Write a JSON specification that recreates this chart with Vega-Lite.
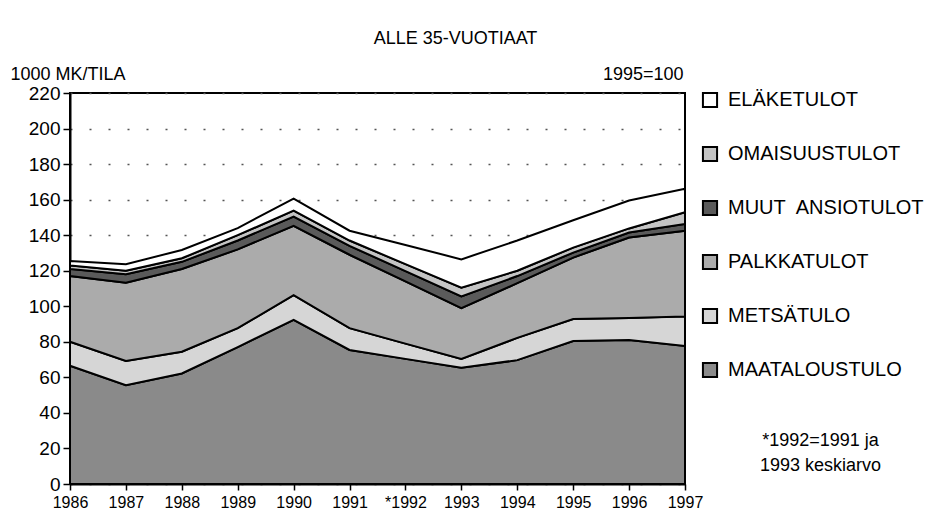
{
  "$schema": "https://vega.github.io/schema/vega-lite/v6.json",
  "width": 615,
  "height": 391,
  "autosize": {"type": "none"},
  "padding": {"left": 70, "top": 93, "right": 252, "bottom": 45},
  "background": "white",
  "config": {
    "font": "Liberation Sans",
    "view": {"stroke": "black", "strokeWidth": 2}
  },
  "title": {
    "text": "ALLE 35-VUOTIAAT",
    "fontSize": 18,
    "fontWeight": "normal",
    "color": "black",
    "anchor": "middle",
    "dx": 78,
    "offset": 17
  },
  "data": {
    "values": [
      {"vuosi": "1986", "tulo": "MAATALOUSTULO", "j": 1, "arvo": 66.5},
      {"vuosi": "1986", "tulo": "METSÄTULO", "j": 2, "arvo": 13.5},
      {"vuosi": "1986", "tulo": "PALKKATULOT", "j": 3, "arvo": 37},
      {"vuosi": "1986", "tulo": "MUUT\u00a0 ANSIOTULOT", "j": 4, "arvo": 4},
      {"vuosi": "1986", "tulo": "OMAISUUSTULOT", "j": 5, "arvo": 2},
      {"vuosi": "1986", "tulo": "ELÄKETULOT", "j": 6, "arvo": 2.5},
      {"vuosi": "1987", "tulo": "MAATALOUSTULO", "j": 1, "arvo": 55.6},
      {"vuosi": "1987", "tulo": "METSÄTULO", "j": 2, "arvo": 13.6},
      {"vuosi": "1987", "tulo": "PALKKATULOT", "j": 3, "arvo": 44},
      {"vuosi": "1987", "tulo": "MUUT\u00a0 ANSIOTULOT", "j": 4, "arvo": 4.8},
      {"vuosi": "1987", "tulo": "OMAISUUSTULOT", "j": 5, "arvo": 2},
      {"vuosi": "1987", "tulo": "ELÄKETULOT", "j": 6, "arvo": 3.6},
      {"vuosi": "1988", "tulo": "MAATALOUSTULO", "j": 1, "arvo": 62.2},
      {"vuosi": "1988", "tulo": "METSÄTULO", "j": 2, "arvo": 12.2},
      {"vuosi": "1988", "tulo": "PALKKATULOT", "j": 3, "arvo": 46.6},
      {"vuosi": "1988", "tulo": "MUUT\u00a0 ANSIOTULOT", "j": 4, "arvo": 4},
      {"vuosi": "1988", "tulo": "OMAISUUSTULOT", "j": 5, "arvo": 2},
      {"vuosi": "1988", "tulo": "ELÄKETULOT", "j": 6, "arvo": 4.7},
      {"vuosi": "1989", "tulo": "MAATALOUSTULO", "j": 1, "arvo": 77},
      {"vuosi": "1989", "tulo": "METSÄTULO", "j": 2, "arvo": 10.7},
      {"vuosi": "1989", "tulo": "PALKKATULOT", "j": 3, "arvo": 44.3},
      {"vuosi": "1989", "tulo": "MUUT\u00a0 ANSIOTULOT", "j": 4, "arvo": 5},
      {"vuosi": "1989", "tulo": "OMAISUUSTULOT", "j": 5, "arvo": 3},
      {"vuosi": "1989", "tulo": "ELÄKETULOT", "j": 6, "arvo": 4},
      {"vuosi": "1990", "tulo": "MAATALOUSTULO", "j": 1, "arvo": 92.4},
      {"vuosi": "1990", "tulo": "METSÄTULO", "j": 2, "arvo": 13.8},
      {"vuosi": "1990", "tulo": "PALKKATULOT", "j": 3, "arvo": 39.1},
      {"vuosi": "1990", "tulo": "MUUT\u00a0 ANSIOTULOT", "j": 4, "arvo": 5.2},
      {"vuosi": "1990", "tulo": "OMAISUUSTULOT", "j": 5, "arvo": 3.3},
      {"vuosi": "1990", "tulo": "ELÄKETULOT", "j": 6, "arvo": 6.8},
      {"vuosi": "1991", "tulo": "MAATALOUSTULO", "j": 1, "arvo": 75.4},
      {"vuosi": "1991", "tulo": "METSÄTULO", "j": 2, "arvo": 12.3},
      {"vuosi": "1991", "tulo": "PALKKATULOT", "j": 3, "arvo": 41.3},
      {"vuosi": "1991", "tulo": "MUUT\u00a0 ANSIOTULOT", "j": 4, "arvo": 5},
      {"vuosi": "1991", "tulo": "OMAISUUSTULOT", "j": 5, "arvo": 3},
      {"vuosi": "1991", "tulo": "ELÄKETULOT", "j": 6, "arvo": 5.5},
      {"vuosi": "*1992", "tulo": "MAATALOUSTULO", "j": 1, "arvo": 70.4},
      {"vuosi": "*1992", "tulo": "METSÄTULO", "j": 2, "arvo": 8.6},
      {"vuosi": "*1992", "tulo": "PALKKATULOT", "j": 3, "arvo": 35},
      {"vuosi": "*1992", "tulo": "MUUT\u00a0 ANSIOTULOT", "j": 4, "arvo": 5.8},
      {"vuosi": "*1992", "tulo": "OMAISUUSTULOT", "j": 5, "arvo": 3.9},
      {"vuosi": "*1992", "tulo": "ELÄKETULOT", "j": 6, "arvo": 10.8},
      {"vuosi": "1993", "tulo": "MAATALOUSTULO", "j": 1, "arvo": 65.4},
      {"vuosi": "1993", "tulo": "METSÄTULO", "j": 2, "arvo": 4.9},
      {"vuosi": "1993", "tulo": "PALKKATULOT", "j": 3, "arvo": 28.7},
      {"vuosi": "1993", "tulo": "MUUT\u00a0 ANSIOTULOT", "j": 4, "arvo": 6.6},
      {"vuosi": "1993", "tulo": "OMAISUUSTULOT", "j": 5, "arvo": 4.8},
      {"vuosi": "1993", "tulo": "ELÄKETULOT", "j": 6, "arvo": 16},
      {"vuosi": "1994", "tulo": "MAATALOUSTULO", "j": 1, "arvo": 69.7},
      {"vuosi": "1994", "tulo": "METSÄTULO", "j": 2, "arvo": 12.5},
      {"vuosi": "1994", "tulo": "PALKKATULOT", "j": 3, "arvo": 30.8},
      {"vuosi": "1994", "tulo": "MUUT\u00a0 ANSIOTULOT", "j": 4, "arvo": 4},
      {"vuosi": "1994", "tulo": "OMAISUUSTULOT", "j": 5, "arvo": 3},
      {"vuosi": "1994", "tulo": "ELÄKETULOT", "j": 6, "arvo": 17},
      {"vuosi": "1995", "tulo": "MAATALOUSTULO", "j": 1, "arvo": 80.5},
      {"vuosi": "1995", "tulo": "METSÄTULO", "j": 2, "arvo": 12.3},
      {"vuosi": "1995", "tulo": "PALKKATULOT", "j": 3, "arvo": 34.6},
      {"vuosi": "1995", "tulo": "MUUT\u00a0 ANSIOTULOT", "j": 4, "arvo": 2.8},
      {"vuosi": "1995", "tulo": "OMAISUUSTULOT", "j": 5, "arvo": 2.8},
      {"vuosi": "1995", "tulo": "ELÄKETULOT", "j": 6, "arvo": 15.4},
      {"vuosi": "1996", "tulo": "MAATALOUSTULO", "j": 1, "arvo": 81},
      {"vuosi": "1996", "tulo": "METSÄTULO", "j": 2, "arvo": 12.4},
      {"vuosi": "1996", "tulo": "PALKKATULOT", "j": 3, "arvo": 45.3},
      {"vuosi": "1996", "tulo": "MUUT\u00a0 ANSIOTULOT", "j": 4, "arvo": 2.8},
      {"vuosi": "1996", "tulo": "OMAISUUSTULOT", "j": 5, "arvo": 2.3},
      {"vuosi": "1996", "tulo": "ELÄKETULOT", "j": 6, "arvo": 15.7},
      {"vuosi": "1997", "tulo": "MAATALOUSTULO", "j": 1, "arvo": 77.7},
      {"vuosi": "1997", "tulo": "METSÄTULO", "j": 2, "arvo": 16.6},
      {"vuosi": "1997", "tulo": "PALKKATULOT", "j": 3, "arvo": 48.2},
      {"vuosi": "1997", "tulo": "MUUT\u00a0 ANSIOTULOT", "j": 4, "arvo": 3.8},
      {"vuosi": "1997", "tulo": "OMAISUUSTULOT", "j": 5, "arvo": 6.6},
      {"vuosi": "1997", "tulo": "ELÄKETULOT", "j": 6, "arvo": 13.2}
    ]
  },
  "layer": [
    {
      "mark": {"type": "area", "stroke": "black", "strokeWidth": 2},
      "encoding": {
        "x": {
          "field": "vuosi",
          "type": "ordinal",
          "scale": {
            "type": "point",
            "padding": 0,
            "domain": ["1986", "1987", "1988", "1989", "1990", "1991", "*1992", "1993", "1994", "1995", "1996", "1997"]
          },
          "axis": {
            "title": ["*1992=1991 ja", "1993 keskiarvo"],
            "titleX": 750,
            "titleY": -53,
            "titleAlign": "center",
            "titleBaseline": "top",
            "titleFontSize": 18,
            "titleFontWeight": "normal",
            "titleLineHeight": 25,
            "titleColor": "black",
            "labelAngle": 0,
            "labelFontSize": 16,
            "labelPadding": 4,
            "labelColor": "black",
            "tickSize": 6,
            "tickColor": "black",
            "tickWidth": 1.5,
            "domainColor": "black",
            "domainWidth": 2,
            "grid": false
          }
        },
        "y": {
          "field": "arvo",
          "type": "quantitative",
          "stack": "zero",
          "scale": {"domain": [0, 220], "nice": false},
          "axis": {
            "title": "1000 MK/TILA",
            "titleAngle": 0,
            "titleX": -60,
            "titleY": -14,
            "titleAlign": "left",
            "titleBaseline": "alphabetic",
            "titleFontSize": 18,
            "titleFontWeight": "normal",
            "titleColor": "black",
            "values": [0, 20, 40, 60, 80, 100, 120, 140, 160, 180, 200, 220],
            "labelFontSize": 19,
            "labelPadding": 3,
            "labelColor": "black",
            "tickSize": 7,
            "tickColor": "black",
            "tickWidth": 1.5,
            "domainColor": "black",
            "domainWidth": 2,
            "grid": true,
            "gridColor": "#555555",
            "gridDash": [2, 17],
            "gridWidth": 1.5
          }
        },
        "color": {
          "field": "tulo",
          "type": "nominal",
          "scale": {
            "domain": ["ELÄKETULOT", "OMAISUUSTULOT", "MUUT\u00a0 ANSIOTULOT", "PALKKATULOT", "METSÄTULO", "MAATALOUSTULO"],
            "range": ["#ffffff", "#c4c4c4", "#5a5a5a", "#ababab", "#d6d6d6", "#8a8a8a"]
          },
          "legend": {
            "orient": "none",
            "legendX": 630,
            "legendY": -3,
            "title": null,
            "symbolType": "square",
            "symbolSize": 200,
            "symbolStrokeColor": "black",
            "symbolStrokeWidth": 2,
            "labelFontSize": 20,
            "labelOffset": 8,
            "labelLimit": 260,
            "labelColor": "black",
            "rowPadding": 30
          }
        },
        "order": {"field": "j", "type": "quantitative"}
      }
    },
    {
      "mark": {"type": "rule", "opacity": 0},
      "encoding": {
        "y": {
          "datum": 0,
          "type": "quantitative",
          "axis": {
            "orient": "right",
            "title": "1995=100",
            "titleAngle": 0,
            "titleX": -2,
            "titleY": -14,
            "titleAlign": "right",
            "titleBaseline": "alphabetic",
            "titleFontSize": 18,
            "titleFontWeight": "normal",
            "titleColor": "black",
            "labels": false,
            "ticks": false,
            "domain": false,
            "grid": false
          }
        }
      }
    }
  ],
  "resolve": {"axis": {"y": "independent"}}
}
